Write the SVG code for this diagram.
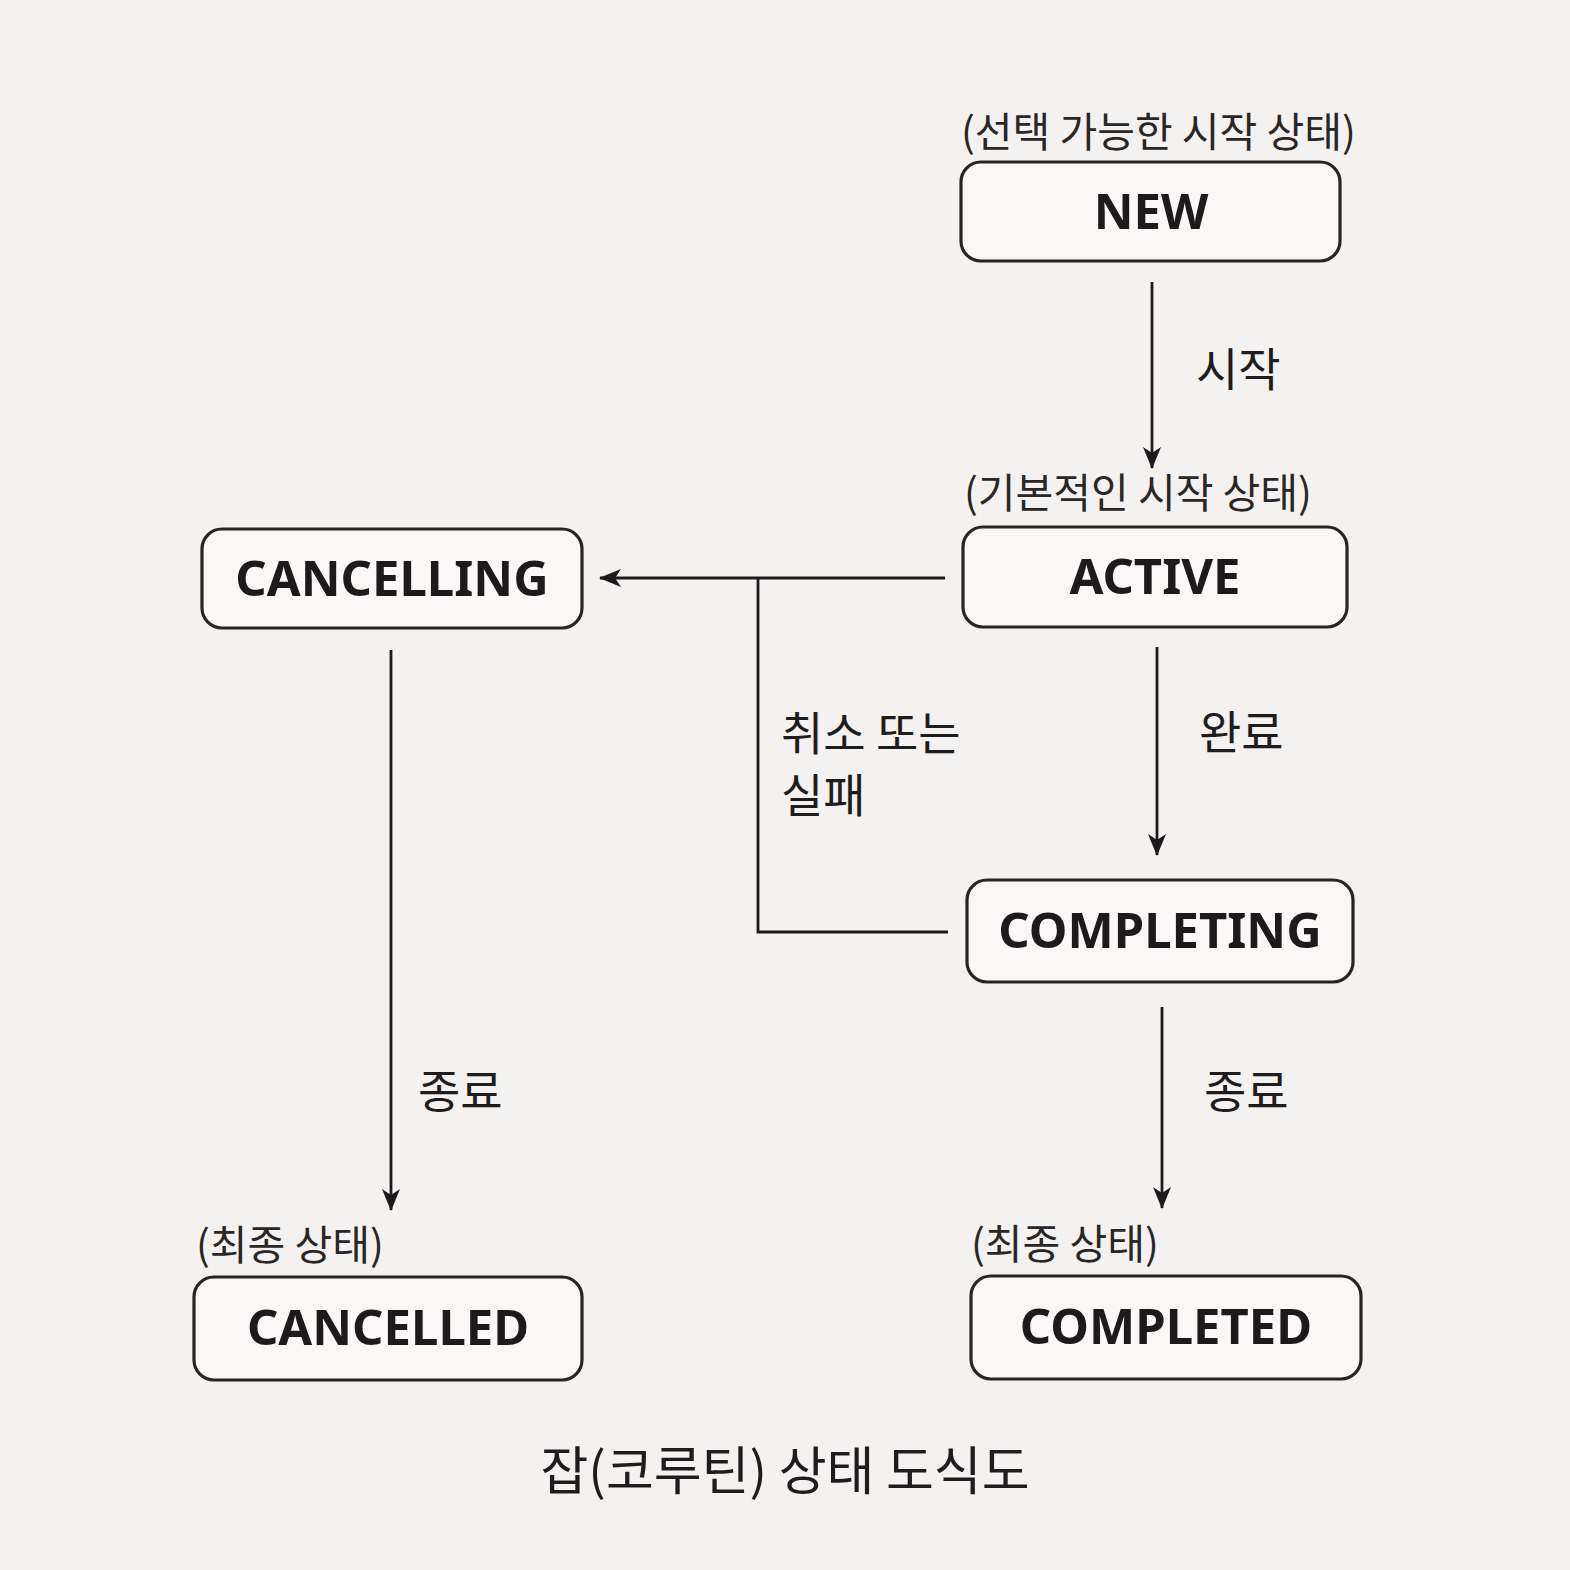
<svg xmlns="http://www.w3.org/2000/svg" width="1570" height="1570" viewBox="0 0 1570 1570">
<defs>
<marker id="ah" markerWidth="22" markerHeight="18" viewBox="0 0 22 18" refX="21" refY="9" orient="auto" markerUnits="userSpaceOnUse">
<path d="M0,0 L22,9 L0,18 L6,9 Z" fill="#1e1a1b"/>
</marker>
<style>
.box{fill:#faf8f6;stroke:#2a2224;stroke-width:3.2}
.nt{font-family:"Noto Sans","Open Sans","Noto Sans CJK KR",sans-serif;font-weight:bold;font-size:49px;fill:#1c1a1b;text-anchor:middle}
.an{font-family:"Noto Sans CJK KR",sans-serif;font-size:41px;fill:#2a2626}
.el{font-family:"Noto Sans CJK KR",sans-serif;font-size:46px;fill:#1e1c1c}
.ln{fill:none;stroke:#1e1a1b;stroke-width:2.8}
</style>
</defs>
<rect width="1570" height="1570" fill="#f3f2f0"/>
<g id="connectors">
<line class="ln" x1="1152" y1="282" x2="1152" y2="468" marker-end="url(#ah)"/>
<line class="ln" x1="945" y1="578" x2="600" y2="578" marker-end="url(#ah)"/>
<polyline class="ln" points="758,578 758,932 948,932"/>
<line class="ln" x1="1157" y1="647" x2="1157" y2="855" marker-end="url(#ah)"/>
<line class="ln" x1="1162" y1="1007" x2="1162" y2="1208" marker-end="url(#ah)"/>
<line class="ln" x1="391" y1="650" x2="391" y2="1210" marker-end="url(#ah)"/>
<text class="el" x="1196" y="386">시작</text>
<text class="el" x="1199" y="749">완료</text>
<text class="el" x="781" y="750" font-size="45">취소 또는</text>
<text class="el" x="781" y="812" font-size="45">실패</text>
<text class="el" x="1204" y="1108">종료</text>
<text class="el" x="418" y="1108">종료</text>
</g>
<g id="new">
<text class="an" x="961" y="147">(선택 가능한 시작 상태)</text>
<rect class="box" x="961" y="162" width="379" height="99" rx="20"/>
<text class="nt" x="1151" y="229">NEW</text>
</g>
<g id="active">
<text class="an" x="964" y="508">(기본적인 시작 상태)</text>
<rect class="box" x="963" y="527" width="384" height="100" rx="20"/>
<text class="nt" x="1155" y="594">ACTIVE</text>
</g>
<g id="cancelling">
<rect class="box" x="202" y="529" width="380" height="99" rx="20"/>
<text class="nt" x="392" y="596">CANCELLING</text>
</g>
<g id="completing">
<rect class="box" x="967" y="880" width="386" height="102" rx="20"/>
<text class="nt" x="1160" y="948">COMPLETING</text>
</g>
<g id="cancelled">
<text class="an" x="196" y="1260">(최종 상태)</text>
<rect class="box" x="194" y="1277" width="388" height="103" rx="20"/>
<text class="nt" x="388" y="1345">CANCELLED</text>
</g>
<g id="completed">
<text class="an" x="971" y="1259">(최종 상태)</text>
<rect class="box" x="971" y="1276" width="390" height="103" rx="20"/>
<text class="nt" x="1166" y="1344">COMPLETED</text>
</g>
<text x="785" y="1490" font-family="'Noto Sans CJK KR',sans-serif" font-size="52" fill="#1e1c1c" text-anchor="middle">잡(코루틴) 상태 도식도</text>
</svg>
